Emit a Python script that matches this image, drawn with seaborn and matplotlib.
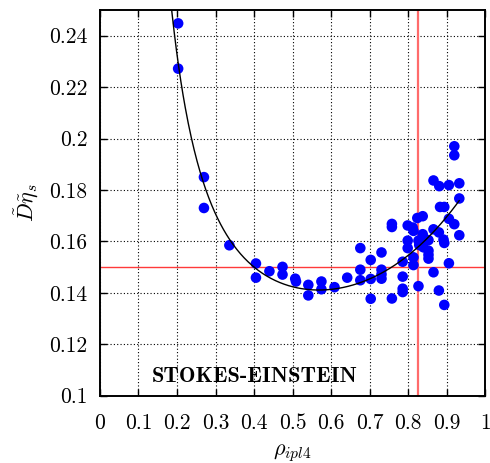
import numpy as np
import pandas as pd
import matplotlib
matplotlib.use("Agg")
import matplotlib.pyplot as plt
import seaborn as sns

# Measured product of reduced diffusion and shear viscosity vs. density
rho = [0.203, 0.203, 0.270, 0.270, 0.336,
       0.405, 0.405, 0.440, 0.474, 0.474, 0.507, 0.509, 0.541, 0.541,
       0.575, 0.575, 0.609, 0.642,
       0.676, 0.676, 0.676, 0.703, 0.703, 0.703,
       0.731, 0.731, 0.731, 0.731, 0.758, 0.758, 0.758,
       0.786, 0.786, 0.786, 0.786, 0.799, 0.799, 0.799,
       0.812, 0.814, 0.814, 0.814, 0.824, 0.827, 0.829, 0.827,
       0.838, 0.838, 0.838, 0.840, 0.853, 0.853, 0.853, 0.853,
       0.866, 0.866, 0.866, 0.881, 0.880, 0.880, 0.883,
       0.892, 0.894, 0.894, 0.894, 0.906, 0.906, 0.906,
       0.920, 0.920, 0.920, 0.933, 0.933, 0.933]
d_eta = [0.2448, 0.2272, 0.1850, 0.1730, 0.1585,
         0.1514, 0.1459, 0.1484, 0.1501, 0.1471, 0.1455, 0.1444, 0.1431, 0.1390,
         0.1444, 0.1414, 0.1422, 0.1459,
         0.1574, 0.1490, 0.1449, 0.1528, 0.1454, 0.1377,
         0.1557, 0.1490, 0.1472, 0.1455, 0.1668, 0.1656, 0.1378,
         0.1521, 0.1463, 0.1416, 0.1403, 0.1662, 0.1603, 0.1574,
         0.1654, 0.1641, 0.1538, 0.1508, 0.1691, 0.1603, 0.1586, 0.1426,
         0.1698, 0.1628, 0.1605, 0.1577, 0.1605, 0.1564, 0.1548, 0.1533,
         0.1837, 0.1647, 0.1480, 0.1815, 0.1635, 0.1409, 0.1734,
         0.1607, 0.1734, 0.1594, 0.1353, 0.1819, 0.1688, 0.1515,
         0.1970, 0.1935, 0.1667, 0.1826, 0.1767, 0.1624]

# Fit D*eta = a + b / rho^2 + c * rho^4
fit_a, fit_b, fit_c = 0.12021, 0.004497, 0.06668
fit_range = (0.17, 0.933)

# Reference lines
h_ref = 0.15
v_ref = 0.826

xticks = [0, 0.1, 0.2, 0.3, 0.4, 0.5, 0.6, 0.7, 0.8, 0.9, 1.0]
xtick_labels = ["0", "0.1", "0.2", "0.3", "0.4", "0.5", "0.6", "0.7", "0.8", "0.9", "1"]
yticks = [0.10, 0.12, 0.14, 0.16, 0.18, 0.20, 0.22, 0.24]
ytick_labels = ["0.1", "0.12", "0.14", "0.16", "0.18", "0.2", "0.22", "0.24"]

sns.set_theme(style="ticks")
plt.rcParams["font.family"] = ["cmr10", "DejaVu Serif"]
plt.rcParams["mathtext.fontset"] = "cm"
plt.rcParams["axes.formatter.use_mathtext"] = True

fig = plt.figure(figsize=(4.9, 4.63), dpi=100)
ax = fig.add_axes([0.204, 0.1454, 0.786, 0.8330])

df = pd.DataFrame({"rho": rho, "d_eta": d_eta})
rr = np.linspace(fit_range[0], fit_range[1], 400)
fit_df = pd.DataFrame({"rho": rr, "d_eta": fit_a + fit_b / rr**2 + fit_c * rr**4})

ax.axhline(h_ref, color="#ff3a3a", lw=1.0, zorder=1)
ax.axvline(v_ref, color="#ff6b6b", lw=1.6, zorder=1)
sns.scatterplot(data=df, x="rho", y="d_eta", ax=ax, color="#0000ff",
                s=58, linewidth=0, edgecolor="none", zorder=3)
sns.lineplot(data=fit_df, x="rho", y="d_eta", ax=ax, color="black",
             lw=1.0, zorder=4)

ax.set_xlim(0, 1)
ax.set_ylim(0.1, 0.25)
ax.set_xticks(xticks)
ax.set_xticklabels(xtick_labels)
ax.set_yticks(yticks)
ax.set_yticklabels(ytick_labels)
ax.grid(True, color="black", linestyle=(0, (1, 2)), lw=0.8)
ax.set_axisbelow(True)
ax.tick_params(direction="in", length=5, width=1, labelsize=15.5,
               top=True, right=True, color="black", labelcolor="black")
ax.tick_params(axis="x", pad=13)
ax.tick_params(axis="y", pad=9)
for sp in ax.spines.values():
    sp.set_color("black")
    sp.set_linewidth(1.4)

ax.set_xlabel(r"$\rho_{ipl4}$", fontsize=16, color="black", labelpad=6)
ax.set_ylabel(r"$\tilde{D}\tilde{\eta}_s$", fontsize=16, color="black", labelpad=6)

ax.text(0.401, 0.1074, "STOKES-EINSTEIN", family=["cmb10", "DejaVu Serif"],
        fontsize=16, ha="center", va="center", color="black")

fig.savefig("out.png", dpi=100)
